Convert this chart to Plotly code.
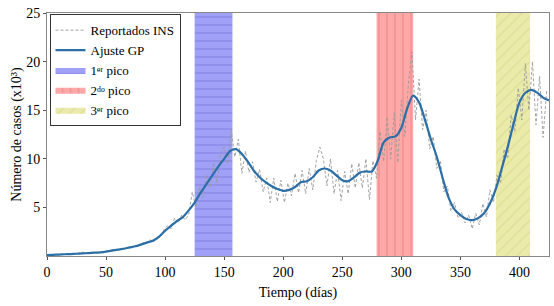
import plotly.graph_objects as go

# ---- Data ----
gp_days = list(range(0, 430, 5))
gp_values = [0.10, 0.12, 0.15, 0.18, 0.20, 0.23, 0.27, 0.30, 0.34, 0.38,
             0.45, 0.55, 0.65, 0.75, 0.88, 1.00, 1.20, 1.40, 1.60, 2.00,
             2.60, 3.10, 3.60, 4.00, 4.70, 5.50, 6.50, 7.40, 8.30, 9.20,
             10.0, 10.8, 11.0, 10.5, 9.7, 8.8, 8.1, 7.6, 7.2, 6.9,
             6.7, 6.8, 7.1, 7.6, 7.7, 8.1, 8.8, 9.0, 8.8, 8.3,
             7.8, 7.7, 8.1, 8.6, 8.7, 8.7, 9.8, 11.7, 12.2, 12.3,
             13.2, 15.2, 16.5, 15.8, 14.0, 12.0, 10.2, 8.0, 6.0, 4.8,
             4.2, 3.8, 3.7, 3.9, 4.4, 5.4, 6.9, 9.0, 11.2, 13.6,
             15.8, 16.8, 17.1, 16.8, 16.3, 16.0]

rep_days = list(range(0, 424, 3))
rep_values = [0.1, 0.1, 0.15, 0.1, 0.2, 0.15, 0.2, 0.2, 0.25, 0.3,
              0.4, 0.3, 0.35, 0.3, 0.4, 0.35, 0.45, 0.5, 0.6, 0.7,
              0.6, 0.8, 0.75, 0.95, 0.9, 1.1, 1.05, 1.4, 1.2, 1.7,
              1.4, 1.9, 2.0, 2.7, 3.1, 2.8, 3.9, 3.4, 4.2, 3.7,
              4.3, 6.6, 5.0, 7.1, 6.0, 8.4, 7.0, 9.6, 7.5, 10.5,
              11.2, 9.5, 12.9, 10.2, 12.0, 8.5, 10.8, 8.6, 9.7, 7.6,
              8.9, 6.6, 8.0, 5.5, 8.0, 5.6, 7.8, 5.5, 7.5, 6.2,
              8.5, 6.5, 8.8, 6.4, 9.0, 6.8, 9.8, 11.2, 10.0, 7.2,
              10.0, 6.4, 8.8, 5.7, 8.7, 6.4, 9.5, 7.0, 9.6, 7.0,
              10.0, 5.8, 9.8, 8.0, 12.8, 9.7, 14.3, 10.0, 14.8, 9.6,
              16.0, 12.3, 17.8, 21.0, 14.0, 18.2, 13.0, 15.0, 11.0, 12.3,
              9.0, 9.8, 6.6, 7.2, 4.6, 5.5, 3.9, 4.5, 3.4, 4.2,
              2.8, 4.4, 3.2, 5.4, 4.0, 6.8, 5.5, 8.3, 7.5, 11.0,
              10.0, 14.5, 12.8, 17.3, 14.0, 19.8, 15.0, 20.0, 13.5, 18.5,
              12.2, 17.0]

peak_names = ["1ᵉʳ pico", "2ᵈᵒ pico", "3ᵉʳ pico"]
peak_start = [125, 279, 380]
peak_end = [157, 310, 409]
y_max = 25

peak_bg = ["rgb(160,160,246)", "rgb(255,168,168)", "rgb(234,234,170)"]
peak_fg = ["rgb(135,135,228)", "rgb(240,140,140)", "rgb(222,222,150)"]
peak_shape = ["-", "|", "/"]

fig = go.Figure()

for i in range(3):
    a, b = peak_start[i], peak_end[i]
    fig.add_trace(go.Scatter(
        x=[a, b, b, a, a], y=[0, 0, y_max, y_max, 0],
        mode="lines", fill="toself", line=dict(width=0),
        fillcolor=peak_bg[i],
        fillpattern=dict(shape=peak_shape[i], bgcolor=peak_bg[i], fgcolor=peak_fg[i],
                         size=8, solidity=0.15),
        name=peak_names[i], legendrank=10 + i, hoverinfo="skip"))

fig.add_trace(go.Scatter(
    x=rep_days, y=rep_values, mode="lines", name="Reportados INS",
    line=dict(color="#9a9a9a", width=0.9, dash="3px,2px"), legendrank=1))

fig.add_trace(go.Scatter(
    x=gp_days, y=gp_values, mode="lines", name="Ajuste GP",
    line=dict(color="#2c6ea6", width=2.2, shape="spline", smoothing=0.8), legendrank=2))

font_family = "Liberation Serif"

fig.update_layout(
    template="none",
    width=554, height=306,
    margin=dict(l=47, r=5, t=13, b=50),
    paper_bgcolor="white", plot_bgcolor="white",
    font=dict(family=font_family, size=14, color="black"),
    showlegend=True,
    legend=dict(x=0.005, y=0.995, xanchor="left", yanchor="top",
                bordercolor="#333", borderwidth=1, bgcolor="white",
                font=dict(family=font_family, size=13),
                tracegroupgap=0, itemwidth=30),
    xaxis=dict(range=[0, 425], tickvals=[0, 50, 100, 150, 200, 250, 300, 350, 400],
               showgrid=False, zeroline=False, showline=True, linecolor="#888",
               linewidth=1, mirror=True, ticks="outside", ticklen=3, tickcolor="#555",
               automargin=False, tickfont=dict(family=font_family, size=14),
               title=dict(text="Tiempo (días)", standoff=8,
                          font=dict(family=font_family, size=14))),
    yaxis=dict(range=[0, 25], tickvals=[5, 10, 15, 20, 25],
               showgrid=False, zeroline=False, showline=True, linecolor="#888",
               linewidth=1, mirror=True, ticks="outside", ticklen=3, tickcolor="#555",
               automargin=False, tickfont=dict(family=font_family, size=14),
               title=dict(text="Número de casos (x10³)", standoff=1,
                          font=dict(family=font_family, size=14))),
)

fig.write_html("out.html", config={"displayModeBar": False},
               post_script="document.body.style.margin='0px';")
